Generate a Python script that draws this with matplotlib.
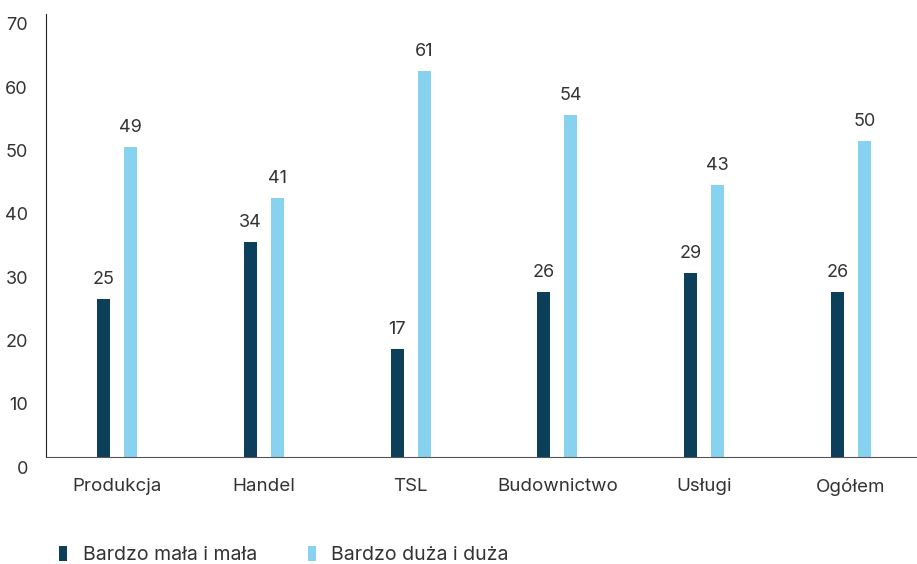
import numpy as np
import matplotlib.pyplot as plt
import matplotlib.transforms as mtransforms

categories = ["Produkcja", "Handel", "TSL", "Budownictwo", "Usługi", "Ogółem"]
small = [25, 34, 17, 26, 29, 26]
large = [49, 41, 61, 54, 43, 50]
series_names = ["Bardzo mała i mała", "Bardzo duża i duża"]
y_ticks = [0, 10, 20, 30, 40, 50, 60, 70]

dark = "#0B3F5A"
light = "#87D2EF"
text_col = "#333333"

plt.rcParams['font.family'] = ['Inter', 'DejaVu Sans']

fig = plt.figure(figsize=(9.17, 5.64), dpi=100)
# axes placed in pixel terms: left 46, right 917, bottom 457, top 14
ax = fig.add_axes([46/917, 1 - 457/564, 871/917, (457 - 14)/564])

x = np.arange(len(categories))
w = 0.089
off = 0.092
b1 = ax.bar(x - off, small, width=w, color=dark, label=series_names[0])
b2 = ax.bar(x + off, large, width=w, color=light, label=series_names[1])

for bars in (b1, b2):
    for rect in bars:
        h = rect.get_height()
        ax.annotate(f"{h:g}", (rect.get_x() + rect.get_width()/2, h),
                    xytext=(0, 11), textcoords="offset pixels",
                    ha="center", va="bottom", fontsize=13, color=text_col)

ax.set_xlim(-0.484, 5.45)
ax.set_ylim(0, 70)
ax.set_xticks(x)
ax.set_xticklabels(categories)
ax.set_yticks(y_ticks)
ax.tick_params(axis='both', length=0, labelsize=13, labelcolor=text_col)
ax.tick_params(axis='x', pad=15, labelsize=13.5)
ax.tick_params(axis='y', pad=13)

# y labels sit a little below their gridline value in the original
shift = mtransforms.ScaledTranslation(0, -10/100, fig.dpi_scale_trans)
for lbl in ax.get_yticklabels():
    lbl.set_transform(lbl.get_transform() + shift)

for s in ("top", "right"):
    ax.spines[s].set_visible(False)
ax.spines["left"].set_color("#222222")
ax.spines["bottom"].set_color("#555555")

fig.legend(handles=[b1, b2], labels=series_names, loc="center left",
           bbox_to_anchor=(59/917, 1 - 555/564), frameon=False, ncol=2,
           fontsize=14, handlelength=0.42, handleheight=0.85,
           handletextpad=0.8, columnspacing=2.6, borderpad=0,
           borderaxespad=0, labelcolor=text_col)

fig.savefig("out.png", dpi=100)
